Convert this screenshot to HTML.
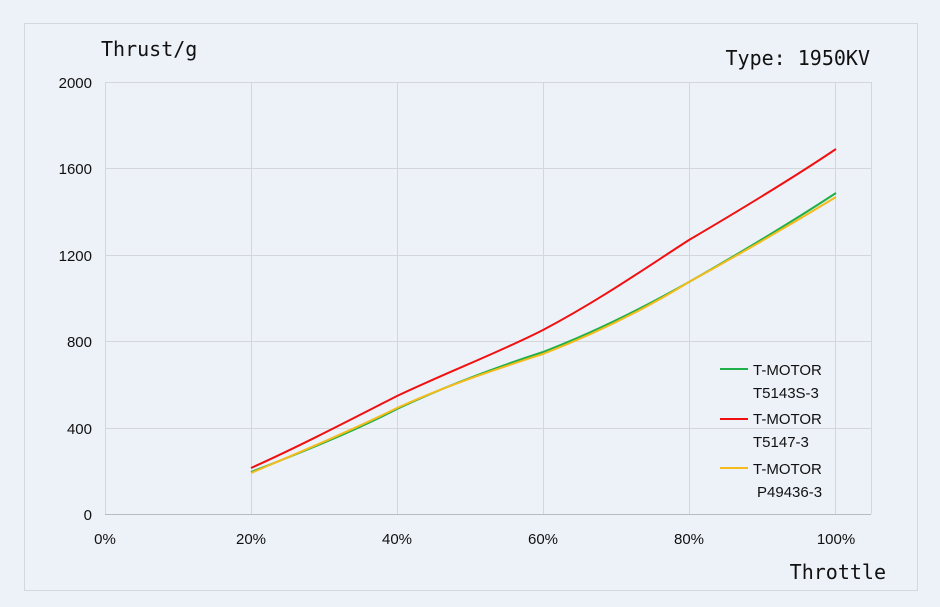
<!DOCTYPE html>
<html><head><meta charset="utf-8"><style>
body{margin:0;background:#edf1f8;}
svg{display:block;font-family:"Liberation Sans","Microsoft YaHei",sans-serif;}
</style></head><body>
<svg width="940" height="607" viewBox="0 0 940 607">
<rect width="940" height="607" fill="#edf1f8"/>
<rect x="24.5" y="23.5" width="893" height="567" fill="#edf1f8" stroke="#d4d8de"/>
<g stroke="#d4d6da" stroke-width="1">
<line x1="105" y1="82.5" x2="871" y2="82.5"/>
<line x1="105" y1="168.5" x2="871" y2="168.5"/>
<line x1="105" y1="255.5" x2="871" y2="255.5"/>
<line x1="105" y1="341.5" x2="871" y2="341.5"/>
<line x1="105" y1="428.5" x2="871" y2="428.5"/>
<line x1="105.5" y1="82" x2="105.5" y2="514"/>
<line x1="251.5" y1="82" x2="251.5" y2="514"/>
<line x1="397.5" y1="82" x2="397.5" y2="514"/>
<line x1="543.5" y1="82" x2="543.5" y2="514"/>
<line x1="689.5" y1="82" x2="689.5" y2="514"/>
<line x1="835.5" y1="82" x2="835.5" y2="514"/>
<line x1="871.5" y1="82" x2="871.5" y2="514"/>
</g>
<line x1="105" y1="514.5" x2="871" y2="514.5" stroke="#b8bcc2"/>
<g font-size="15" fill="#111" text-anchor="end">
<text x="92" y="88">2000</text><text x="92" y="174">1600</text><text x="92" y="261">1200</text>
<text x="92" y="347">800</text><text x="92" y="434">400</text><text x="92" y="520">0</text>
</g>
<g font-size="15" fill="#111" text-anchor="middle">
<text x="105" y="544">0%</text><text x="251" y="544">20%</text><text x="397" y="544">40%</text>
<text x="543" y="544">60%</text><text x="689" y="544">80%</text><text x="836" y="544">100%</text>
</g>
<g font-family="'DejaVu Sans Mono','Liberation Mono',monospace" font-size="20" fill="#111">
<text x="101" y="56">Thrust/g</text>
<text x="870" y="65" text-anchor="end">Type: 1950KV</text>
<text x="886" y="579" text-anchor="end">Throttle</text>
</g>
<g fill="none" stroke-width="2">
<path d="M251,472 C300,453 350,433 397,409 C450,384 500,366 543,352 C600,330 650,304 689,282 C740,253 790,223 836,193" stroke="#1fb04a"/>
<path d="M251,468 C300,446 350,420 397,396 C450,371 500,352 543,330 C600,300 650,265 689,240 C740,210 790,180 836,149" stroke="#f01010"/>
<path d="M251,473 C300,452 350,431 397,408 C450,384 500,368 543,354 C600,332 650,306 689,282 C740,254 790,225 836,197" stroke="#f4bb1a"/>
</g>
<g font-size="15" fill="#111">
<line x1="720" y1="369" x2="748" y2="369" stroke="#1fb04a" stroke-width="2"/>
<text x="753" y="375">T-MOTOR</text><text x="753" y="398">T5143S-3</text>
<line x1="720" y1="419" x2="748" y2="419" stroke="#f01010" stroke-width="2"/>
<text x="753" y="424">T-MOTOR</text><text x="753" y="447">T5147-3</text>
<line x1="720" y1="468" x2="748" y2="468" stroke="#f4bb1a" stroke-width="2"/>
<text x="753" y="474">T-MOTOR</text><text x="757" y="497">P49436-3</text>
</g>
</svg>
</body></html>
